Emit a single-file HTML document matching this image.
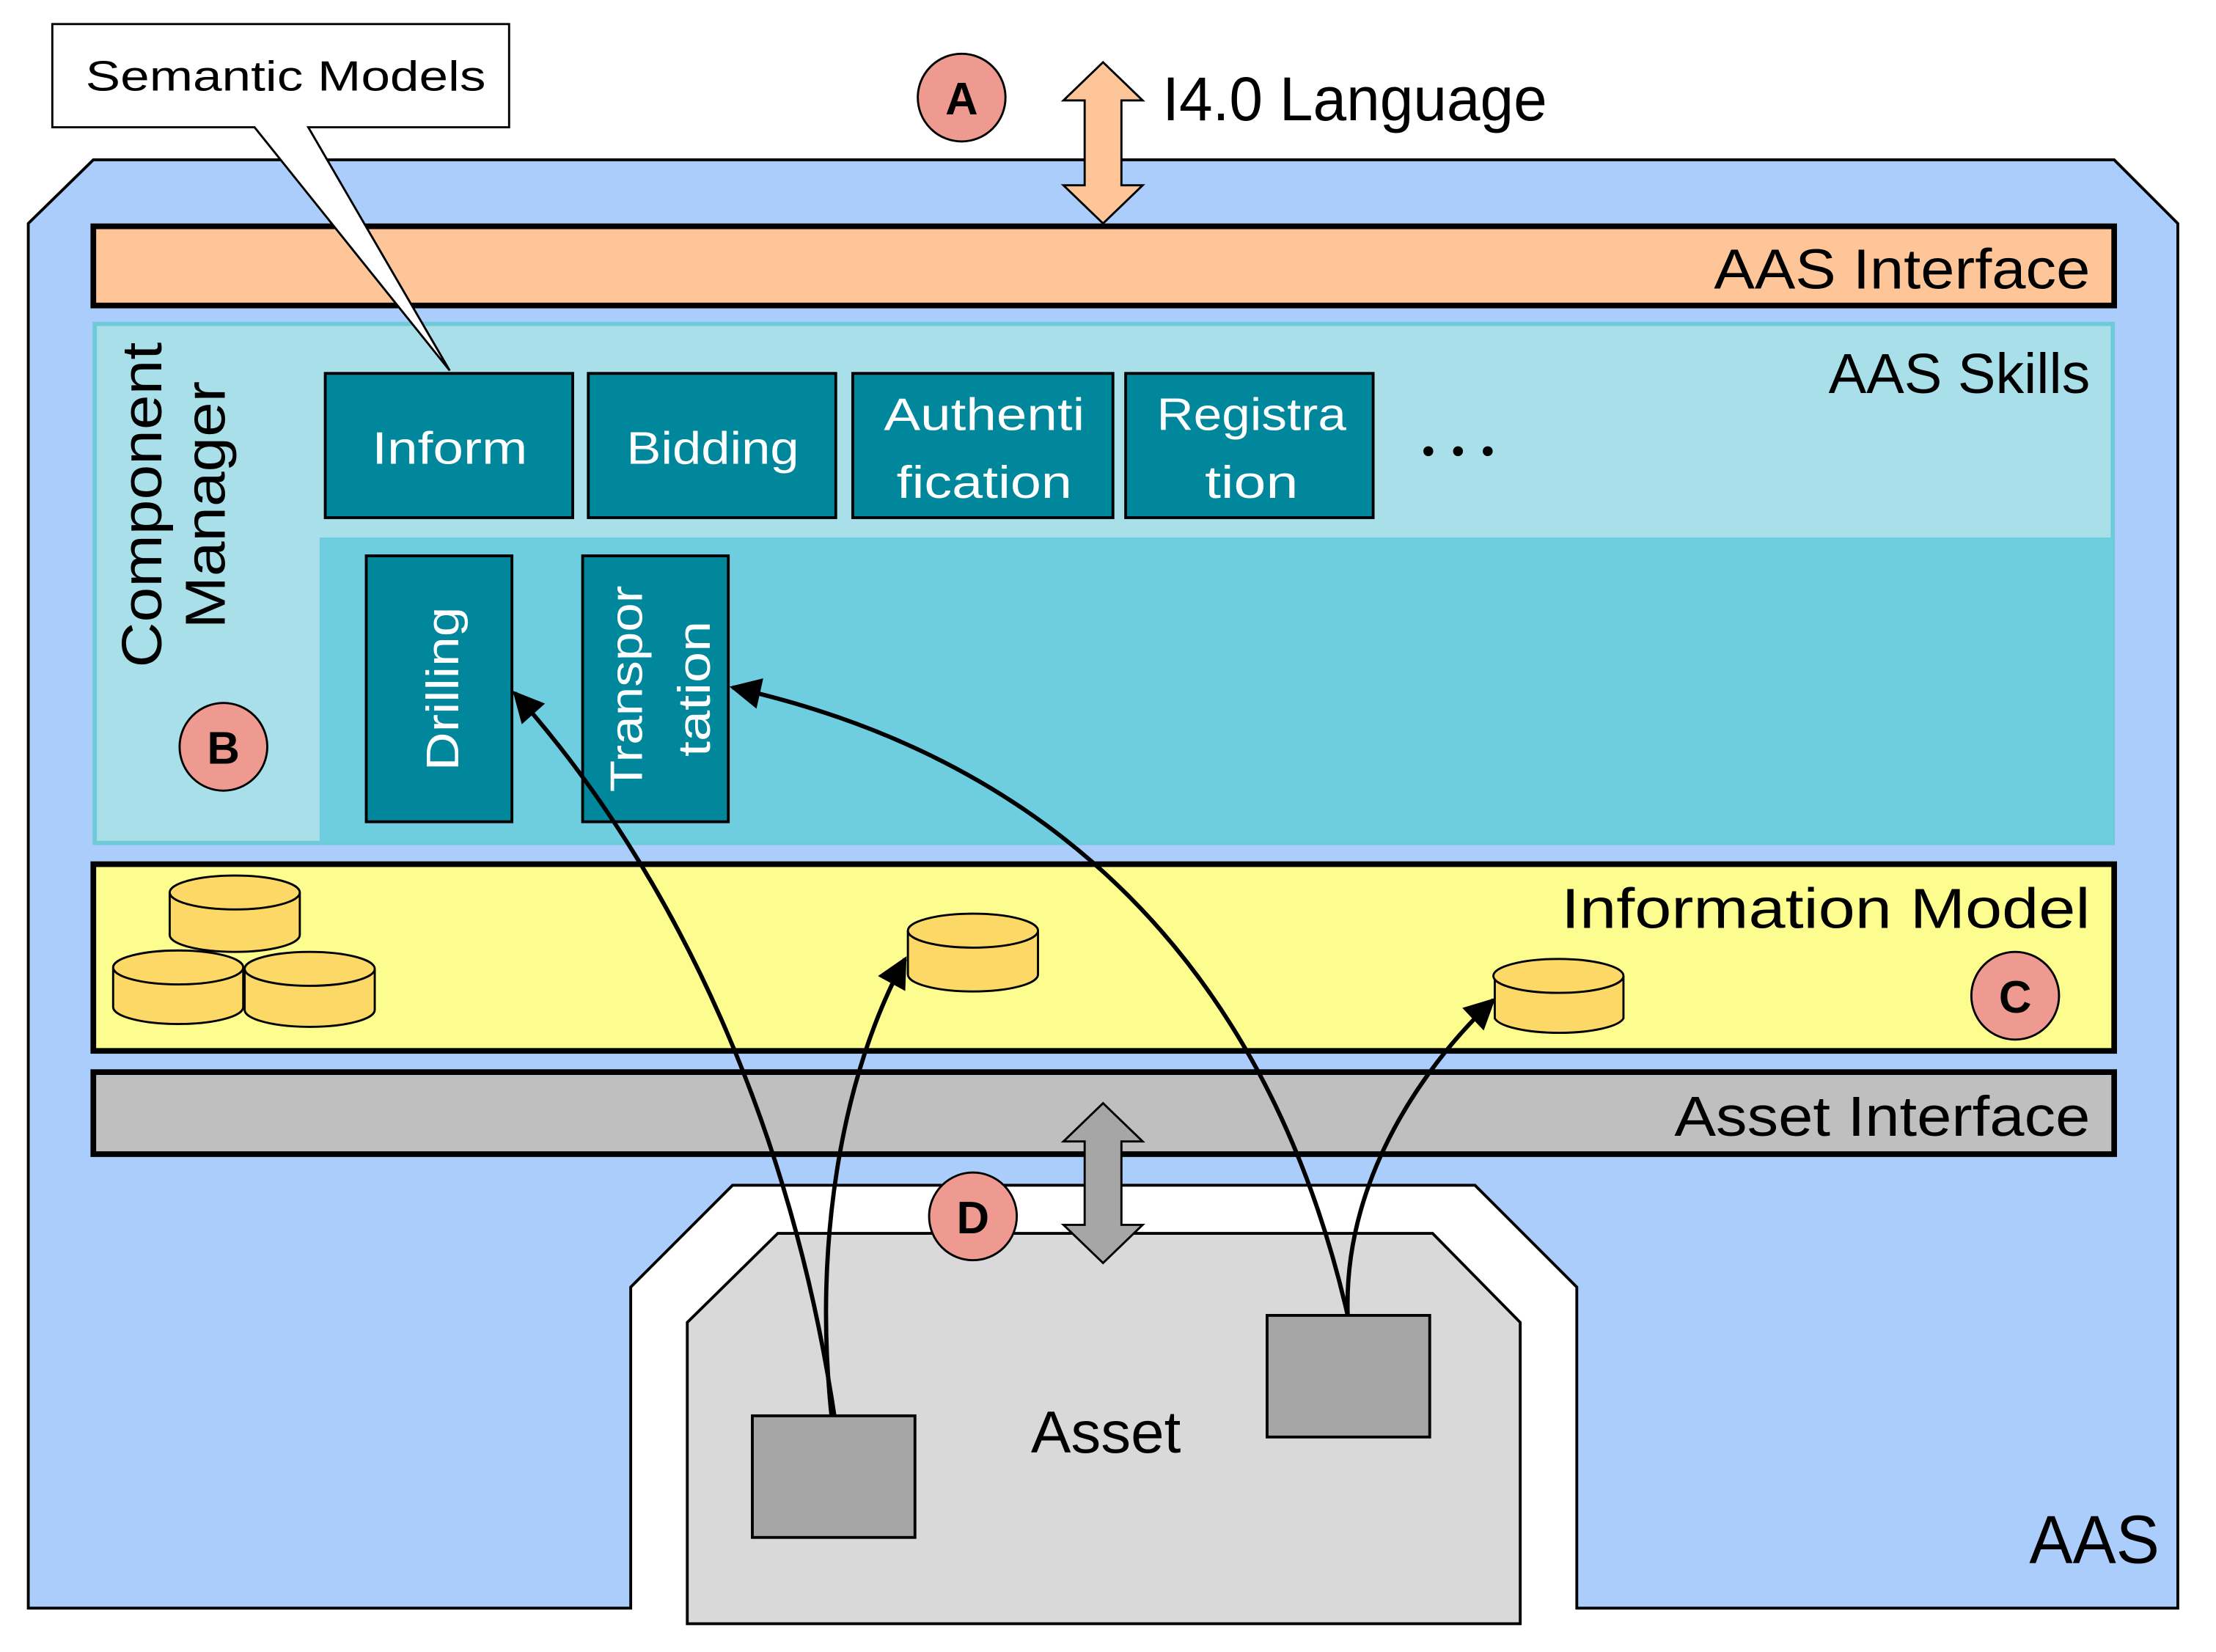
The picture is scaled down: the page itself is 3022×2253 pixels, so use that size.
<!DOCTYPE html>
<html><head><meta charset="utf-8"><style>
html,body{margin:0;padding:0;background:#fff;}
svg{display:block;}
text{font-family:"Liberation Sans",sans-serif;}
</style></head><body>
<svg width="3022" height="2253" viewBox="0 0 1567 1168" preserveAspectRatio="none" xmlns="http://www.w3.org/2000/svg">
<defs>
<marker id="ah2" viewBox="0 0 10 10" refX="9" refY="5" markerWidth="26" markerHeight="22" orient="auto" markerUnits="userSpaceOnUse">
<path d="M0,0 L10,5 L0,10 Z" fill="#000"/>
</marker>
</defs>
<rect width="1567" height="1168" fill="#fff"/>
<polygon points="20,158 66,113 1495,113 1540,158 1540,1137 1115,1137 1115,910 1043,838 518,838 446,910 446,1137 20,1137" fill="#abcdfb" stroke="#000" stroke-width="2"/>
<polygon points="486,935 550,872 1013,872 1075,935 1075,1148 486,1148" fill="#d9d9d9" stroke="#000" stroke-width="2"/>
<rect x="66" y="160" width="1429" height="56" fill="#fdc598" stroke="#000" stroke-width="4"/>
<text x="1478" y="204" font-size="40" text-anchor="end" textLength="266" lengthAdjust="spacingAndGlyphs">AAS Interface</text>
<rect x="67" y="229" width="1427" height="367" fill="#a8dfe9" stroke="#6ecad9" stroke-width="3"/>
<rect x="226" y="380" width="1268" height="216" fill="#6ecddf"/>
<text x="1478" y="278" font-size="40" text-anchor="end" textLength="185" lengthAdjust="spacingAndGlyphs">AAS Skills</text>
<text transform="translate(114,357) rotate(-90)" font-size="40" text-anchor="middle" textLength="230" lengthAdjust="spacingAndGlyphs">Component</text>
<text transform="translate(159,357) rotate(-90)" font-size="40" text-anchor="middle" textLength="175" lengthAdjust="spacingAndGlyphs">Manager</text>
<circle cx="158" cy="528" r="31" fill="#ee9a91" stroke="#000" stroke-width="1.5"/>
<text x="158" y="540" font-size="32" font-weight="bold" text-anchor="middle">B</text>
<g fill="#01879c" stroke="#000" stroke-width="2">
<rect x="230" y="264" width="175" height="102"/>
<rect x="416" y="264" width="175" height="102"/>
<rect x="603" y="264" width="184" height="102"/>
<rect x="796" y="264" width="175" height="102"/>
<rect x="259" y="393" width="103" height="188"/>
<rect x="412" y="393" width="103" height="188"/>
</g>
<g fill="#fff" font-size="32" text-anchor="middle">
<text x="318" y="328" textLength="110" lengthAdjust="spacingAndGlyphs">Inform</text>
<text x="504" y="328" textLength="122" lengthAdjust="spacingAndGlyphs">Bidding</text>
<text x="696" y="304" textLength="142" lengthAdjust="spacingAndGlyphs">Authenti</text>
<text x="696" y="352" textLength="124" lengthAdjust="spacingAndGlyphs">fication</text>
<text x="885" y="304" textLength="134" lengthAdjust="spacingAndGlyphs">Registra</text>
<text x="885" y="352" textLength="66" lengthAdjust="spacingAndGlyphs">tion</text>
<text transform="translate(324,487) rotate(-90)" textLength="116" lengthAdjust="spacingAndGlyphs">Drilling</text>
<text transform="translate(454,487) rotate(-90)" textLength="146" lengthAdjust="spacingAndGlyphs">Transpor</text>
<text transform="translate(502,487) rotate(-90)" textLength="96" lengthAdjust="spacingAndGlyphs">tation</text>
</g>
<g fill="#000"><circle cx="1010" cy="319" r="3.5"/><circle cx="1031" cy="319" r="3.5"/><circle cx="1052" cy="319" r="3.5"/></g>
<rect x="66" y="611" width="1429" height="132" fill="#fdfc8e" stroke="#000" stroke-width="4"/>
<text x="1478" y="656" font-size="40" text-anchor="end" textLength="374" lengthAdjust="spacingAndGlyphs">Information Model</text>
<circle cx="1425" cy="704" r="31" fill="#ee9a91" stroke="#000" stroke-width="1.5"/>
<text x="1425" y="716" font-size="32" font-weight="bold" text-anchor="middle">C</text>
<g fill="#fcd966" stroke="#000" stroke-width="1.5">
<path d="M120,631 v30 a46,12 0 0 0 92,0 v-30"/><ellipse cx="166" cy="631" rx="46" ry="12"/>
<path d="M80,684 v28 a46,12 0 0 0 92,0 v-28"/><ellipse cx="126" cy="684" rx="46" ry="12"/>
<path d="M173,685 v29 a46,12 0 0 0 92,0 v-29"/><ellipse cx="219" cy="685" rx="46" ry="12"/>
<path d="M642,658 v31 a46,12 0 0 0 92,0 v-31"/><ellipse cx="688" cy="658" rx="46" ry="12"/>
<path d="M1057,690 v30 a46,12 0 0 0 91,0 v-30"/><ellipse cx="1102" cy="690" rx="46" ry="12"/>
</g>
<rect x="66" y="758" width="1429" height="58" fill="#bfbfbf" stroke="#000" stroke-width="4"/>
<text x="1478" y="803" font-size="40" text-anchor="end" textLength="294" lengthAdjust="spacingAndGlyphs">Asset Interface</text>
<rect x="532" y="1001" width="115" height="86" fill="#a6a6a6" stroke="#000" stroke-width="2"/>
<rect x="896" y="930" width="115" height="86" fill="#a6a6a6" stroke="#000" stroke-width="2"/>
<text x="782" y="1027" font-size="42" text-anchor="middle" textLength="106" lengthAdjust="spacingAndGlyphs">Asset</text>
<text x="1527" y="1105" font-size="48" text-anchor="end" textLength="92" lengthAdjust="spacingAndGlyphs">AAS</text>
<polygon points="780,780 808,807 793,807 793,866 808,866 780,893 752,866 767,866 767,807 752,807" fill="#a6a6a6" stroke="#000" stroke-width="1.5"/>
<circle cx="688" cy="860" r="31" fill="#ee9a91" stroke="#000" stroke-width="1.5"/>
<text x="688" y="872" font-size="32" font-weight="bold" text-anchor="middle">D</text>
<polygon points="780,44 808,71 793,71 793,131 808,131 780,158 752,131 767,131 767,71 752,71" fill="#fdc598" stroke="#000" stroke-width="1.5"/>
<circle cx="680" cy="69" r="31" fill="#ee9a91" stroke="#000" stroke-width="1.5"/>
<text x="680" y="81" font-size="32" font-weight="bold" text-anchor="middle">A</text>
<text x="822" y="85" font-size="44" textLength="272" lengthAdjust="spacingAndGlyphs">I4.0 Language</text>
<polygon points="37,17 360,17 360,90 218,90 318,262 180,90 37,90" fill="#fff" stroke="#000" stroke-width="1.5"/>
<text x="202" y="64" font-size="30" text-anchor="middle" textLength="283" lengthAdjust="spacingAndGlyphs">Semantic Models</text>
<g fill="none" stroke="#000" stroke-width="3">
<path d="M590,1001 C560,800 480,620 364,490" marker-end="url(#ah2)"/>
<path d="M588,1001 C575,880 595,760 640,678" marker-end="url(#ah2)"/>
<path d="M953,930 C900,700 760,540 518,486" marker-end="url(#ah2)"/>
<path d="M953,930 C950,840 1000,760 1056,707" marker-end="url(#ah2)"/>
</g>
</svg>
</body></html>
